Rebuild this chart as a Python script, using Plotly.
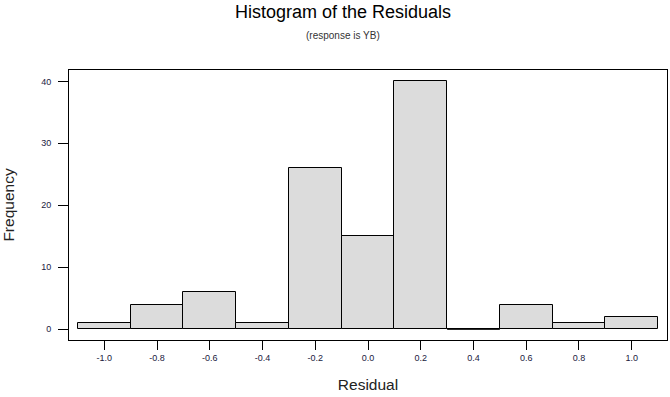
import plotly.graph_objects as go

bin_centers = [-1.0, -0.8, -0.6, -0.4, -0.2, 0.0, 0.2, 0.4, 0.6, 0.8, 1.0]
counts = [1, 4, 6, 1, 26, 15, 40, 0, 4, 1, 2]
bin_width = 0.2
x_ticks = [-1.0, -0.8, -0.6, -0.4, -0.2, 0.0, 0.2, 0.4, 0.6, 0.8, 1.0]
x_tick_labels = ["-1.0", "-0.8", "-0.6", "-0.4", "-0.2", "0.0", "0.2", "0.4", "0.6", "0.8", "1.0"]
y_ticks = [0, 10, 20, 30, 40]

FONT = "Liberation Sans, Arial, sans-serif"
L, R, T, B = 69, 3, 70, 57
W, H = 670, 397

fig = go.Figure()
fig.add_trace(go.Bar(
    x=bin_centers, y=counts, width=[bin_width] * len(bin_centers),
    marker=dict(color="#DCDCDC", line=dict(color="black", width=1)),
    showlegend=False,
))
# zero-count bins are drawn as a baseline segment
for c, n in zip(bin_centers, counts):
    if n == 0:
        fig.add_trace(go.Scatter(
            x=[c - bin_width / 2, c + bin_width / 2], y=[0, 0], mode="lines",
            line=dict(color="black", width=1), showlegend=False, hoverinfo="skip",
        ))

pw, ph = W - L - R, H - T - B
def px(xp):
    return (xp - L) / pw
def py(yp):
    return (H - yp - B) / ph

fig.update_layout(
    width=W, height=H,
    margin=dict(l=L, r=R, t=T, b=B, autoexpand=False),
    paper_bgcolor="white", plot_bgcolor="white",
    font=dict(family=FONT, color="black"),
    bargap=0,
    xaxis=dict(
        range=[-1.134, 1.134], tickvals=x_ticks, ticktext=x_tick_labels,
        showline=True, mirror=True, linecolor="black", linewidth=1,
        ticks="outside", ticklen=9, tickcolor="black", tickwidth=1,
        showgrid=False, zeroline=False, automargin=False,
        tickfont=dict(size=9, color="#1a1a40"),
        title=dict(text="Residual", font=dict(size=15.5, color="#222222"), standoff=17),
    ),
    yaxis=dict(
        range=[-1.72, 41.83], tickvals=y_ticks,
        showline=True, mirror=True, linecolor="black", linewidth=1,
        ticks="outside", ticklen=10, tickcolor="black", tickwidth=1,
        showgrid=False, zeroline=False, automargin=False,
        ticklabelstandoff=5,
        tickfont=dict(size=9, color="#1a1a40"),
        title=dict(text="Frequency", font=dict(size=15.5, color="#222222"), standoff=28),
    ),
    annotations=[
        dict(text="Histogram of the Residuals", x=px(343), y=py(12), xref="paper", yref="paper",
             xanchor="center", yanchor="middle",
             showarrow=False, font=dict(size=18, color="black")),
        dict(text="(response is YB)", x=px(343), y=py(35), xref="paper", yref="paper",
             xanchor="center", yanchor="middle",
             showarrow=False, font=dict(size=10, color="#333333")),
    ],
)

fig.write_html("out.html", config={"displayModeBar": False},
               post_script="document.body.style.margin='0';")
